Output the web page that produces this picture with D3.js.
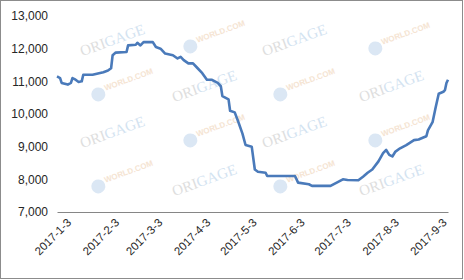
<!DOCTYPE html>
<html>
<head>
<meta charset="utf-8">
<script src="https://cdn.jsdelivr.net/npm/d3@7"></script>
<style>
  body { margin: 0; background: #fff; }
  svg { display: block; font-family: "Liberation Sans", Arial, sans-serif; }
</style>
</head>
<body>
<div id="chart"></div>
<script>
// price points (date, value)
const dates = [
  "2017-01-03", "2017-01-05", "2017-01-06", "2017-01-10", "2017-01-12", "2017-01-13",
  "2017-01-15", "2017-01-17", "2017-01-19", "2017-01-20", "2017-01-26", "2017-02-02",
  "2017-02-05", "2017-02-07", "2017-02-08", "2017-02-10", "2017-02-17", "2017-02-18",
  "2017-02-23", "2017-02-24", "2017-02-26", "2017-02-28", "2017-03-06", "2017-03-08",
  "2017-03-11", "2017-03-14", "2017-03-19", "2017-03-22", "2017-03-24", "2017-03-26",
  "2017-03-29", "2017-04-01", "2017-04-04", "2017-04-07", "2017-04-10", "2017-04-13",
  "2017-04-17", "2017-04-19", "2017-04-20", "2017-04-24", "2017-04-25", "2017-04-28",
  "2017-04-30", "2017-05-03", "2017-05-05", "2017-05-09", "2017-05-11", "2017-05-13",
  "2017-05-18", "2017-05-19", "2017-06-06", "2017-06-08", "2017-06-15", "2017-06-17",
  "2017-06-29", "2017-07-03", "2017-07-07", "2017-07-10", "2017-07-17", "2017-07-20",
  "2017-07-23", "2017-07-26", "2017-07-30", "2017-08-02", "2017-08-04", "2017-08-06",
  "2017-08-08", "2017-08-10", "2017-08-13", "2017-08-17", "2017-08-22", "2017-08-25",
  "2017-08-28", "2017-08-30", "2017-08-31", "2017-09-03", "2017-09-05", "2017-09-07",
  "2017-09-10", "2017-09-11", "2017-09-12", "2017-09-13"
]
const prices = [
  11150, 11100, 10950, 10900, 10950, 11100,
  11050, 10980, 11000, 11200, 11200, 11280,
  11330, 11400, 11800, 11880, 11900, 12100,
  12120, 12180, 12100, 12200, 12200, 12050,
  12000, 11850, 11800, 11700, 11750, 11650,
  11550, 11550, 11400, 11250, 11050, 11050,
  10950, 10850, 10550, 10450, 10100, 10050,
  9800, 9400, 9050, 9000, 8300, 8230,
  8200, 8100, 8100, 7900, 7850, 7800,
  7800, 7900, 8000, 7980, 7970, 8080,
  8200, 8300, 8550, 8800, 8900, 8750,
  8700, 8850, 8950, 9050, 9200, 9220,
  9280, 9320, 9500, 9750, 10200, 10620,
  10680, 10730, 10950, 11050
]
const yTicks = [7000, 8000, 9000, 10000, 11000, 12000, 13000]
const xTicks = ["2017-01-03", "2017-02-03", "2017-03-03", "2017-04-03", "2017-05-03",
  "2017-06-03", "2017-07-03", "2017-08-03", "2017-09-03"]

const WIDTH = 464
const HEIGHT = 280
const parse = d3.timeParse("%Y-%m-%d")
const data = dates.map((d, i) => ({ date: parse(d), value: prices[i] }))

const svg = d3.select("#chart").append("svg")
  .attr("width", WIDTH)
  .attr("height", HEIGHT)

// outer frame
svg.append("rect")
  .attr("x", 0.5).attr("y", 0.5)
  .attr("width", WIDTH - 2).attr("height", HEIGHT - 2)
  .attr("fill", "#fff")
  .attr("stroke", "#8c8c8c")

// faint watermarks
const wm = svg.append("g").attr("class", "watermarks")
const origage = [[113, 42], [295, 42], [205, 88], [392, 88], [113, 134], [295, 134], [205, 182], [392, 182]]
origage.forEach(([cx, cy]) => {
  const t = wm.append("text")
    .attr("transform", `translate(${cx},${cy}) rotate(-20)`)
    .attr("text-anchor", "middle")
    .attr("dominant-baseline", "middle")
    .attr("font-family", "Liberation Serif, serif")
    .attr("font-size", 15)
  t.append("tspan").attr("fill", "#dedede").text("ORI")
  t.append("tspan").attr("fill", "#d3e3f1").text("GAGE")
})
const gtworld = [[113, 88], [295, 88], [205, 40], [390, 42], [113, 180], [295, 180], [205, 134], [390, 134]]
gtworld.forEach(([cx, cy]) => {
  const g = wm.append("g").attr("transform", `translate(${cx},${cy}) rotate(-20)`)
  g.append("circle").attr("cx", -16).attr("cy", 1).attr("r", 7).attr("fill", "#dbe7f4")
  g.append("text")
    .attr("x", -8).attr("y", 0)
    .attr("font-size", 8).attr("font-weight", "bold")
    .attr("fill", "#f5e4d2")
    .text("WORLD.COM")
})

const x = d3.scaleTime()
  .domain(d3.extent(data, d => d.date))
  .range([57, 448])

const y = d3.scaleLinear()
  .domain([7000, 13000])
  .range([212, 16])

// y labels (no axis line)
const yAxis = svg.append("g")
  .attr("transform", "translate(48,0)")
  .call(d3.axisLeft(y).tickValues(yTicks).tickFormat(d3.format(",")).tickSize(0).tickPadding(0))
yAxis.select(".domain").remove()
yAxis.selectAll("text")
  .attr("font-size", 12)
  .attr("font-family", "Liberation Sans, Arial, sans-serif")
  .attr("fill", "#262626")

// x axis line with rotated date labels
const xAxis = svg.append("g")
  .attr("transform", "translate(0,212)")
  .call(d3.axisBottom(x)
    .tickValues(xTicks.map(parse))
    .tickFormat(d3.timeFormat("%Y-%-m-%-d"))
    .tickSize(0))
xAxis.select(".domain").attr("stroke", "#868686")
xAxis.selectAll("text")
  .attr("font-size", 11.5)
  .attr("font-family", "Liberation Sans, Arial, sans-serif")
  .attr("fill", "#262626")
  .attr("text-anchor", "end")
  .attr("dx", "0.2em")
  .attr("dy", "0.9em")
  .attr("y", 8)
  .attr("transform", "rotate(-45)")

const line = d3.line()
  .x(d => x(d.date))
  .y(d => y(d.value))

svg.append("path")
  .datum(data)
  .attr("fill", "none")
  .attr("stroke", "#4a7aba")
  .attr("stroke-width", 2.6)
  .attr("stroke-linejoin", "round")
  .attr("d", line)
</script>
</body>
</html>
